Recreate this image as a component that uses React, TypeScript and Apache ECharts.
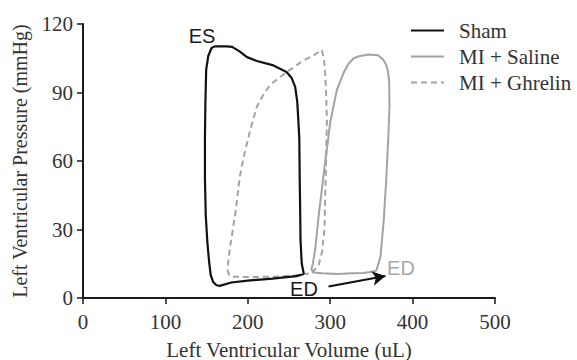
import React, { useEffect, useRef } from "react";
import * as echarts from "echarts";

// Pressure-volume loops: [volume (uL), pressure (mmHg)]
const shamLoop: number[][] = [
  [268, 10.5], [265.5, 15], [264, 25], [263.5, 40], [263, 52], [262.5, 70], [261, 80], [260, 86], [257.5, 92.5],
  [253, 96.5], [247, 99], [230, 102], [211, 103.8], [199, 105.5], [190, 108], [181, 110], [174.5, 110.2],
  [160, 110.2], [156, 109.5], [152, 106], [149.5, 100], [148.5, 85], [148, 70], [148, 52], [149, 36], [151, 24],
  [153, 16], [155, 10], [158, 7], [162, 5.6], [166, 5.3], [180, 6.8], [200, 7.6], [230, 8.5], [259, 9.6], [268, 10.5],
];
const salineLoop: number[][] = [
  [356, 12], [361, 18], [365, 34], [368, 52], [370.5, 70], [372, 85], [371.5, 95], [370, 99.5], [367.5, 102.5],
  [364, 104.5], [358, 106.3], [347, 106.6], [336, 106], [328.5, 105], [322, 102.5], [316, 98.4], [308, 91],
  [304, 84], [300, 77], [297, 68], [294, 60], [290, 48], [286, 36], [282, 22], [279, 15], [277, 12.5],
  [280, 11.2], [290, 10.8], [310, 10.5], [326, 10.8], [340, 11], [351, 11.5], [356, 12],
];
const ghrelinLoop: number[][] = [
  [278, 11], [286, 14.5], [290, 20], [293, 30], [294, 45], [295, 60], [296, 78], [295, 90], [294, 98],
  [292.5, 104], [290, 108.6], [280, 106.3], [267.6, 104], [251.5, 100], [240, 97], [227, 93.3], [218, 88.5],
  [211, 83.8], [203, 73.6], [195, 61.9], [190, 52.5], [186, 40], [181, 28], [178.5, 22.5], [176, 15],
  [175.5, 12], [177.5, 10], [180.5, 9.3], [200, 9.2], [231, 9.3], [255, 9.8], [270, 10.5], [278, 11],
];
const edArrow: number[][] = [[298, 5], [367, 9.6]];

const seriesNames = ["Sham", "MI + Saline", "MI + Ghrelin"];
const xTicks = { min: 0, max: 500, interval: 100 };
const yTicks = { min: 0, max: 120, interval: 30 };

const SERIF = "'Liberation Serif', 'Times New Roman', serif";
const SANS = "'Liberation Sans', Arial, sans-serif";

export default function App() {
  const ref = useRef<HTMLDivElement>(null);
  useEffect(() => {
    document.body.style.margin = "0";
    if (!ref.current) return;
    const chart = echarts.init(ref.current, null, { renderer: "svg" });
    const axisCommon = {
      type: "value" as const,
      axisLine: { show: true, lineStyle: { color: "#1a1a1a", width: 2 } },
      axisTick: { show: true, inside: false, length: 6, lineStyle: { color: "#1a1a1a", width: 1.5 } },
      splitLine: { show: false },
      nameLocation: "middle" as const,
    };
    chart.setOption({
      animation: false,
      backgroundColor: "#ffffff",
      grid: { left: 83, right: 82, top: 24, bottom: 62, containLabel: false, outerBoundsMode: "none" },
      legend: {
        orient: "vertical",
        left: 405,
        top: 15,
        itemWidth: 33,
        itemHeight: 14,
        itemGap: 5,
        data: seriesNames,
        itemStyle: { opacity: 0 },
        textStyle: { fontFamily: SERIF, fontSize: 21, color: "#333", lineHeight: 21, padding: [0, 0, 0, 10] },
      },
      xAxis: {
        ...axisCommon,
        ...xTicks,
        name: "Left Ventricular Volume (uL)",
        nameGap: 41,
        nameTextStyle: { fontFamily: SERIF, fontSize: 21, color: "#333" },
        axisLabel: { fontFamily: SERIF, fontSize: 21, color: "#333", margin: 13 },
      },
      yAxis: {
        ...axisCommon,
        ...yTicks,
        name: "Left Ventricular Pressure (mmHg)",
        nameGap: 53,
        nameTextStyle: { fontFamily: SERIF, fontSize: 20, color: "#333" },
        axisLabel: { fontFamily: SERIF, fontSize: 21, color: "#333", margin: 10 },
      },
      series: [
        {
          name: seriesNames[0],
          type: "line",
          data: shamLoop,
          symbol: "none",
          smooth: false,
          lineStyle: { color: "#111", width: 2.2 },
          itemStyle: { color: "#111" },
          z: 3,
          markLine: {
            silent: true,
            symbol: ["none", "arrow"],
            symbolSize: [11, 13],
            label: { show: false },
            lineStyle: { color: "#111", width: 2, type: "solid" },
            data: [[{ coord: edArrow[0] }, { coord: edArrow[1] }]],
          },
        },
        {
          name: seriesNames[1],
          type: "line",
          data: salineLoop,
          symbol: "none",
          smooth: false,
          lineStyle: { color: "#a3a3a3", width: 2 },
          itemStyle: { color: "#a3a3a3" },
          z: 2,
        },
        {
          name: seriesNames[2],
          type: "line",
          data: ghrelinLoop,
          symbol: "none",
          smooth: false,
          lineStyle: { color: "#a3a3a3", width: 2, type: [6, 4] },
          itemStyle: { color: "#a3a3a3" },
          z: 2,
        },
      ],
      graphic: [
        { type: "text", x: 202, y: 36, style: { text: "ES", font: `20px ${SANS}`, fill: "#1a1a1a", align: "center", verticalAlign: "middle" } },
        { type: "text", x: 304, y: 289, style: { text: "ED", font: `20px ${SANS}`, fill: "#1a1a1a", align: "center", verticalAlign: "middle" } },
        { type: "text", x: 401, y: 267.5, style: { text: "ED", font: `20px ${SANS}`, fill: "#a8a8a8", align: "center", verticalAlign: "middle" } },
      ],
    });
    return () => chart.dispose();
  }, []);
  return <div ref={ref} style={{ width: 577, height: 360 }} />;
}
